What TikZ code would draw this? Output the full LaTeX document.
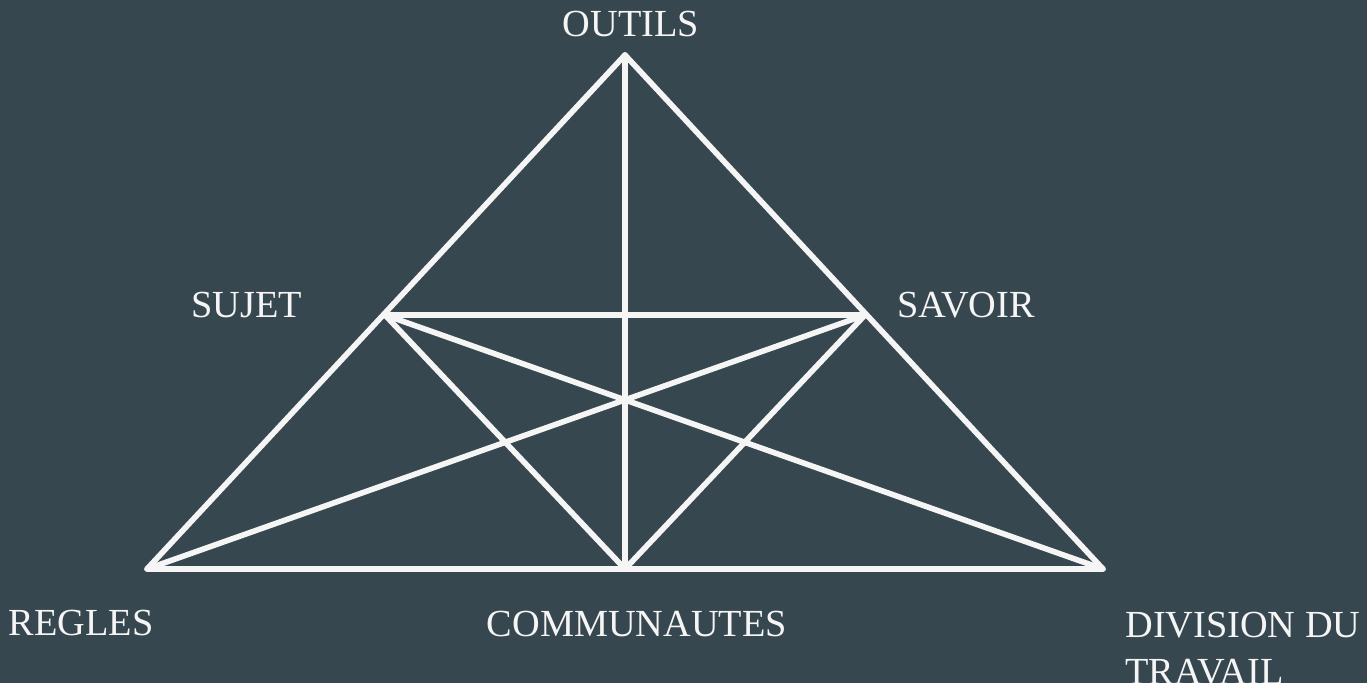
\documentclass[tikz,border=0pt]{standalone}
\usepackage{fontspec}
\setmainfont{Liberation Serif}
\usetikzlibrary{positioning}
\definecolor{slatebg}{HTML}{37474F}
\definecolor{chalk}{HTML}{F5F5F5}
\tikzset{
  edge/.style={draw=chalk, line width=3.2pt, line cap=round, line join=round},
  pole/.style={text=chalk, inner sep=0pt, font=\fontsize{21.8}{26.7}\selectfont},
}

\begin{document}
\begin{tikzpicture}[x=0.02cm, y=-0.02cm]
    \fill[slatebg] (0,0) rectangle (1367,683);
    \useasboundingbox (0,0) rectangle (1367,683);
    % corners of the triangle and midpoints
    \coordinate (outils) at (625,55);
    \coordinate (regles) at (147,569);
    \coordinate (division) at (1103,569);
    \coordinate (commun) at (625,569);
    \coordinate (sujet) at (385,315);
    \coordinate (savoir) at (865,315);
    \draw[edge] (outils) -- (regles) -- (division) -- cycle;
    \draw[edge] (sujet) -- (savoir);
    \draw[edge] (outils) -- (commun);
    \draw[edge] (sujet) -- (commun) -- (savoir);
    \draw[edge] (regles) -- (savoir);
    \draw[edge] (division) -- (sujet);
    % labels
    \node[pole, anchor=base] (outilsLbl) at (631,36) {OUTILS};
    \node[pole, anchor=base] (sujetLbl) at (247,317) {SUJET};
    \node[pole, anchor=base] (savoirLbl) at (966,317) {SAVOIR};
    \node[pole, anchor=base] (reglesLbl) at (81,635) {REGLES};
    \node[pole, anchor=base] (communLbl) at (637,636) {COMMUNAUTES};
    \node[pole, anchor=base west, align=left] (divisionLbl) at (1125,684) {DIVISION DU\\TRAVAIL};
\end{tikzpicture}
\end{document}
